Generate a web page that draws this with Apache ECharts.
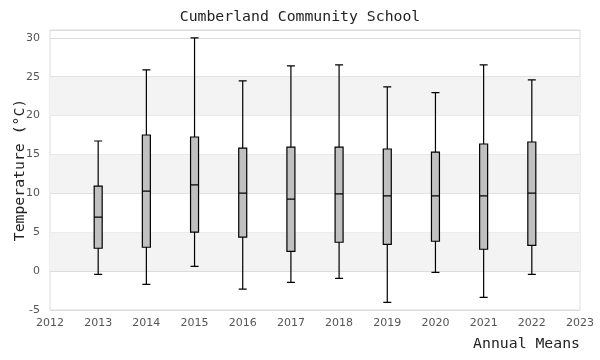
<!DOCTYPE html>
<html>
<head>
<meta charset="utf-8">
<script src="https://cdn.jsdelivr.net/npm/echarts@6/dist/echarts.min.js"></script>
<style>html,body{margin:0;padding:0;background:#fff}#c{width:600px;height:360px}</style>
</head>
<body>
<div id="c"></div>
<script>
const years = [2013, 2014, 2015, 2016, 2017, 2018, 2019, 2020, 2021, 2022];
const lowWhisker = [-0.41, -1.70, 0.62, -2.31, -1.44, -0.93, -4.02, -0.15, -3.38, -0.41];
const q1 = [2.94, 3.07, 5.00, 4.36, 2.55, 3.71, 3.45, 3.84, 2.81, 3.32];
const median = [6.93, 10.28, 11.10, 10.03, 9.25, 9.94, 9.68, 9.68, 9.68, 10.03];
const q3 = [10.93, 17.50, 17.24, 15.82, 15.95, 15.95, 15.70, 15.31, 16.34, 16.60];
const highWhisker = [16.73, 25.88, 30.00, 24.46, 26.39, 26.52, 23.69, 22.95, 26.52, 24.59];
const shadedBands = [[0, 5], [10, 15], [20, 25]];

const boxData = years.map((y, i) => [y, lowWhisker[i], q1[i], median[i], q3[i], highWhisker[i]]);

const chart = echarts.init(document.getElementById('c'), null, {renderer: 'canvas'});
const mono = 'DejaVu Sans Mono';
chart.setOption({
  animation: false,
  backgroundColor: '#fff',
  title: [{
    text: 'Cumberland Community School',
    left: 'center', top: 5,
    textStyle: {fontFamily: mono, fontSize: 14.8, fontWeight: 'normal', color: '#222'}
  }, {
    text: 'Annual Means',
    right: 20, top: 337, padding: 0,
    textStyle: {fontFamily: mono, fontSize: 14.8, fontWeight: 'normal', color: '#222'}
  }],
  grid: {left: 50, right: 20, top: 30, bottom: 50, show: true, borderColor: '#dcdcdc', borderWidth: 1,
    backgroundColor: 'transparent', outerBoundsMode: 'none', containLabel: false},
  xAxis: {
    type: 'value', min: 2012, max: 2023, interval: 1,
    axisLine: {show: false}, axisTick: {show: false},
    splitLine: {show: false},
    axisLabel: {fontFamily: 'DejaVu Sans', fontSize: 11, color: '#555', margin: 8, formatter: v => String(v)}
  },
  yAxis: {
    type: 'value', min: -5, max: 31, interval: 5,
    name: 'Temperature (°C)', nameLocation: 'middle', nameGap: 22, nameMoveOverlap: false,
    nameTextStyle: {fontFamily: mono, fontSize: 14.8, color: '#222'},
    axisLine: {show: false}, axisTick: {show: false},
    splitLine: {show: true, lineStyle: {color: '#dcdcdc', width: 1}},
    axisLabel: {fontFamily: 'DejaVu Sans', fontSize: 11, color: '#555', margin: 10, showMaxLabel: false,
      formatter: v => (v > 30 ? '' : String(v))}
  },
  series: [{
    type: 'boxplot',
    data: boxData,
    boxWidth: [8, 8],
    itemStyle: {color: '#c0c0c0', borderColor: '#000', borderWidth: 1.2},
    emphasis: {disabled: true},
    markArea: {
      silent: true,
      itemStyle: {color: '#f3f3f3'},
      data: shadedBands.map(b => [{yAxis: b[0]}, {yAxis: b[1]}])
    },
    z: 3
  }]
});
</script>
</body>
</html>
